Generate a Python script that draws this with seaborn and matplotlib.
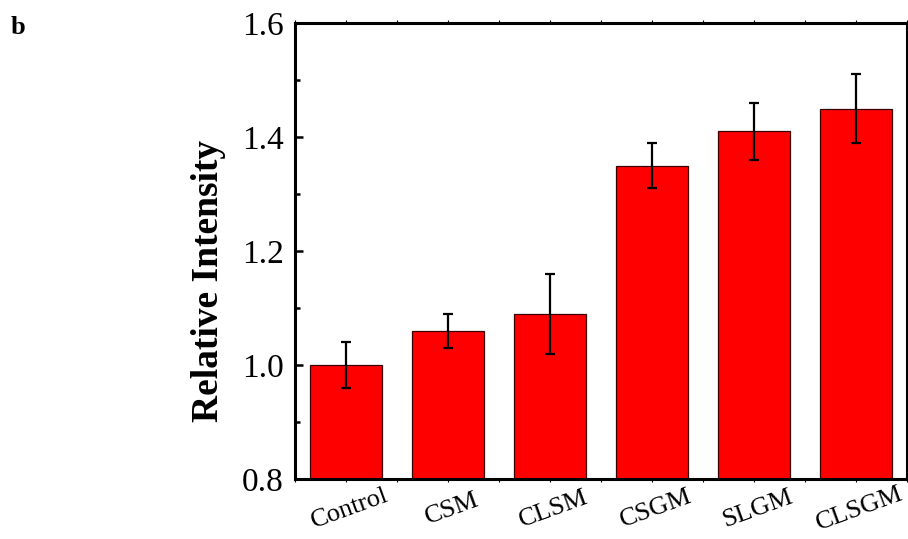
import matplotlib
matplotlib.use("Agg")
import matplotlib.pyplot as plt
from matplotlib.ticker import MultipleLocator
import seaborn as sns
import pandas as pd

groups = ["Control", "CSM", "CLSM", "CSGM", "SLGM", "CLSGM"]
intensity = [1.00, 1.06, 1.09, 1.35, 1.41, 1.45]
errors = [0.04, 0.03, 0.07, 0.04, 0.05, 0.06]

sns.set_style("ticks")
plt.rcParams["font.family"] = ["Liberation Serif", "DejaVu Serif"]
plt.rcParams["text.color"] = "black"
plt.rcParams["axes.labelcolor"] = "black"
plt.rcParams["xtick.color"] = "black"
plt.rcParams["ytick.color"] = "black"

df = pd.DataFrame({"group": groups, "value": intensity})

fig = plt.figure(figsize=(9.08, 5.39), dpi=100)
ax = fig.add_axes([295 / 908, 60 / 539, 612 / 908, 456 / 539])

sns.barplot(data=df, x="group", y="value", order=groups, color="#ff0000",
            width=0.71, edgecolor="#3a0000", linewidth=0.9, saturation=1,
            errorbar=None, ax=ax)
ax.errorbar(range(len(groups)), intensity, yerr=errors, fmt="none",
            ecolor="black", elinewidth=1.6, capsize=3.3, capthick=1.6, zorder=5)

ax.set_xlim(-0.5, len(groups) - 0.5)
ax.set_ylim(0.8, 1.6)
ax.yaxis.set_major_locator(MultipleLocator(0.2))
ax.yaxis.set_minor_locator(MultipleLocator(0.1))
ax.set_yticks([0.8, 1.0, 1.2, 1.4, 1.6])
ax.set_yticklabels(["0.8", "1.0", "1.2", "1.4", "1.6"])
ax.tick_params(axis="y", which="major", direction="in", length=6, width=1.8,
               labelsize=24, pad=8)
ax.tick_params(axis="y", which="minor", direction="in", length=3.5, width=1.8)
ax.xaxis.set_minor_locator(MultipleLocator(0.5))
ax.tick_params(axis="x", which="both", direction="out", length=2, width=0.8,
               top=True, labelsize=19, pad=12)
for lab in ax.get_xticklabels():
    lab.set_rotation(20)
    lab.set_ha("center")
    lab.set_rotation_mode("anchor")
    lab.set_va("top")

for side in ["left", "right", "top", "bottom"]:
    ax.spines[side].set_linewidth(2.2)
    ax.spines[side].set_color("black")

ax.set_xlabel("")
ax.set_ylabel("Relative Intensity", fontsize=27, fontweight="bold")
ax.yaxis.set_label_coords(-0.112, 0.435)

fig.text(18 / 908, 1 - 27 / 539, "b", fontsize=19, fontweight="bold",
         ha="center", va="center")

fig.savefig("out.png", dpi=100)
